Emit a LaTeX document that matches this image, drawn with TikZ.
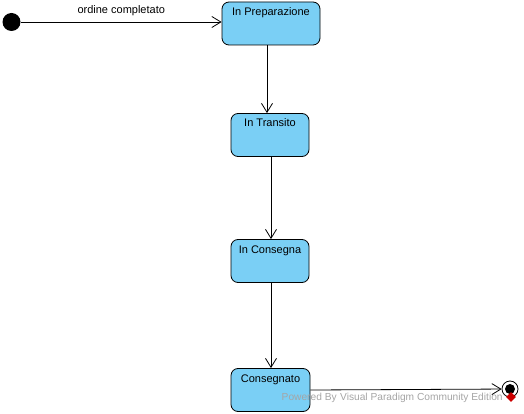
\documentclass[tikz,border=0pt]{standalone}
\usepackage{fontspec}
\setmainfont{Liberation Sans}
\usepackage{tikz}
\usetikzlibrary{positioning, arrows.meta}

\definecolor{statefill}{RGB}{122,207,245}
\definecolor{wmgray}{RGB}{165,165,165}

\begin{document}
\begin{tikzpicture}[x=1pt, y=-1pt, line width=0.8pt,
        >={Straight Barb[length=9pt,width=11pt]},
        st/.style={draw, fill=statefill, rounded corners=7pt, inner sep=3pt,
            text height=10.5pt, text depth=26.5pt, font=\fontsize{11}{13}\selectfont},
        lbl/.style={font=\fontsize{11}{13}\selectfont}]
            \useasboundingbox (0,0) rectangle (524,414);

            \node[circle, fill=black, inner sep=0pt, minimum size=18pt] (start) at (11.5,22) {};
            \node[st, minimum width=98pt] (prep) at (271,23.5) {In Preparazione};
            \node[st, minimum width=78pt] (trans) at (270,135) {In Transito};
            \node[st, minimum width=78pt] (cons) at (270,261) {In Consegna};
            \node[st, minimum width=79pt] (done) at (270.5,390) {Consegnato};
            \node[circle, draw, inner sep=0pt, minimum size=16pt] (end) at (510,389) {};
            \node[circle, fill=black, inner sep=0pt, minimum size=10pt] at (end) {};

            \path[->]
            (start) edge node[lbl, above=2pt] {ordine completato} (start -| prep.west)
            (prep.south -| 267,0) edge (trans.north -| 267,0)
            (trans.south -| 271,0) edge (cons.north -| 271,0)
            (cons.south -| 271,0) edge (done.north -| 271,0)
            (done.east) edge (end)
            ;

            % watermark
            \node[wmgray, font=\fontsize{10.2}{12}\selectfont, anchor=west] (wm) at (278,397.5) {Powered By\,\,Visual Paradigm Community Edition};
            \node[fill=red!80!black, rotate=45, inner sep=0pt, minimum size=7pt] (wmicon) at (511,397) {};
        \end{tikzpicture}
\end{document}
